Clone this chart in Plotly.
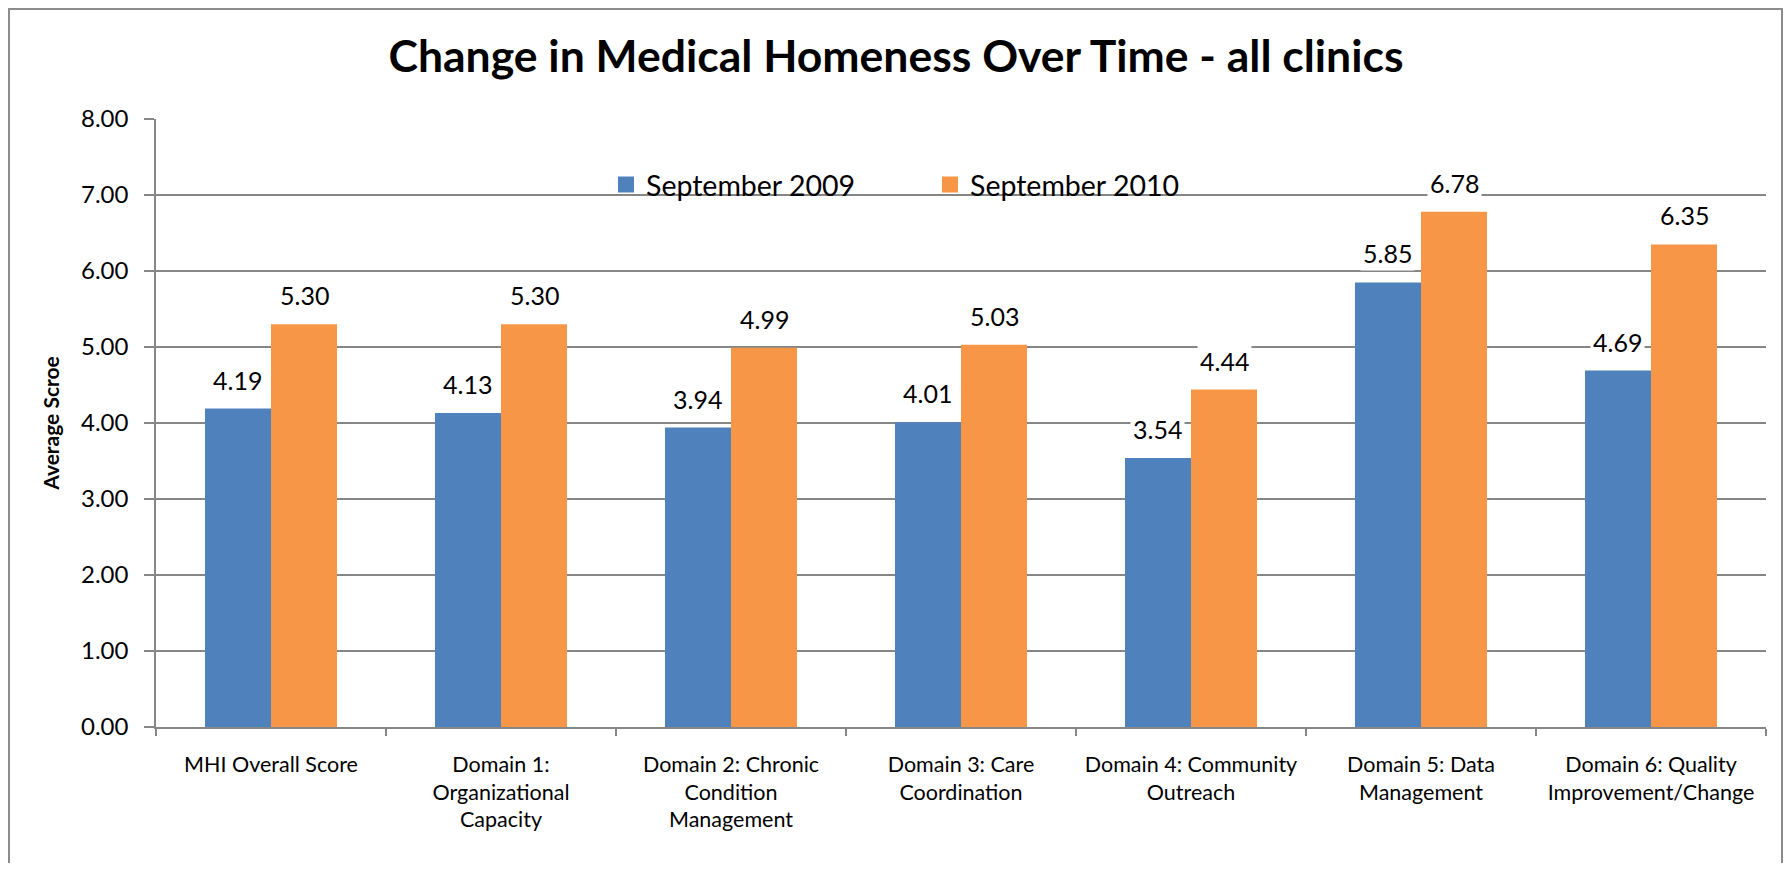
import plotly.graph_objects as go

categories = [
    "MHI Overall Score",
    "Domain 1:<br>Organizational<br>Capacity",
    "Domain 2: Chronic<br>Condition<br>Management",
    "Domain 3: Care<br>Coordination",
    "Domain 4: Community<br>Outreach",
    "Domain 5: Data<br>Management",
    "Domain 6: Quality<br>Improvement/Change",
]
series_names = ["September 2009", "September 2010"]
sep_2009 = [4.19, 4.13, 3.94, 4.01, 3.54, 5.85, 4.69]
sep_2010 = [5.30, 5.30, 4.99, 5.03, 4.44, 6.78, 6.35]
colors = ["#4F81BD", "#F79646"]
y_ticks = [0, 1, 2, 3, 4, 5, 6, 7, 8]

# the page body has an 8px margin, so work in figure pixels = page pixels - 8
OFF = 8
W, H = 1792 - 2 * OFF, 871 - 2 * OFF
L, T = 156 - OFF, 119 - OFF
R = W - (1766 - OFF)
B = H - (727 - OFF)
BARGAP = 0.426
FONT = "Lato, 'Open Sans', sans-serif"
GRID = "#868686"

plot_w = W - L - R
plot_h = H - T - B
cat_px = plot_w / len(categories)
shift = (1 - BARGAP) / 4 * cat_px


def px_x(p):
    # page pixel -> paper x
    return (p - OFF - L) / plot_w


def px_y(p):
    # page pixel -> paper y
    return (H - B - (p - OFF)) / plot_h


fig = go.Figure()
for name, vals, col in zip(series_names, (sep_2009, sep_2010), colors):
    fig.add_bar(x=categories, y=vals, name=name, showlegend=False,
                marker=dict(color=col, line=dict(width=0)))
    # legend proxy with a bigger square swatch
    fig.add_scatter(x=[None], y=[None], mode="markers", name=name,
                    marker=dict(symbol="square", size=18, color=col))

# value labels with white boxes so they break the gridlines
for vals, dx in ((sep_2009, -shift), (sep_2010, shift)):
    for c, v in zip(categories, vals):
        fig.add_annotation(x=c, y=v, text=f"{v:.2f}", showarrow=False,
                           xshift=dx, yshift=29, yanchor="middle",
                           bgcolor="white", borderpad=2,
                           font=dict(family=FONT, size=25, color="black"))

# white legend area that hides the 7.00 gridline
fig.add_shape(type="rect", xref="paper", yref="y", layer="between",
              x0=px_x(534), x1=px_x(1249), y0=6.85, y1=7.15,
              line=dict(width=0), fillcolor="white")

# outer chart border
fig.add_shape(type="rect", xref="paper", yref="paper",
              x0=px_x(OFF + 1), x1=px_x(OFF + W - 2), y0=px_y(900), y1=px_y(OFF + 1),
              line=dict(color="#8c8c8c", width=2), fillcolor="rgba(0,0,0,0)",
              layer="below")

fig.update_layout(
    width=W, height=H,
    margin=dict(l=L, r=R, t=T, b=B, autoexpand=False),
    paper_bgcolor="white", plot_bgcolor="white",
    barmode="group", bargap=BARGAP, bargroupgap=0,
    font=dict(family=FONT, color="black"),
    title=dict(text="<b>Change in Medical Homeness Over Time - all clinics</b>",
               x=0.5, xanchor="center", y=1 - 48 / H, yanchor="middle",
               yref="container", font=dict(family=FONT, size=44.5, color="black")),
    legend=dict(orientation="h", x=px_x(930), xanchor="center",
                y=px_y(185), yanchor="middle", bgcolor="rgba(0,0,0,0)",
                font=dict(family=FONT, size=28.5, color="black"),
                entrywidth=279, traceorder="normal", itemsizing="trace"),
    showlegend=True,
)
fig.update_yaxes(
    range=[0, 8], tickvals=y_ticks, tickformat=".2f", automargin=False,
    showgrid=True, gridcolor=GRID, gridwidth=1.5,
    showline=True, linecolor=GRID, linewidth=1.5,
    ticks="outside", ticklen=10, tickcolor=GRID, tickwidth=1.5,
    ticklabelstandoff=11,
    tickfont=dict(family=FONT, size=24, color="black"),
    title=dict(text="<b>Average Scroe</b>", standoff=16,
               font=dict(family=FONT, size=21, color="black")),
    zeroline=False,
)
fig.update_xaxes(
    automargin=False,
    showgrid=False, showline=True, linecolor=GRID, linewidth=1.5,
    ticks="outside", tickson="boundaries", ticklen=7, tickcolor=GRID, tickwidth=1.5,
    ticklabelstandoff=17,
    tickfont=dict(family=FONT, size=21.5, color="black"),
)

fig.write_html("out.html")
